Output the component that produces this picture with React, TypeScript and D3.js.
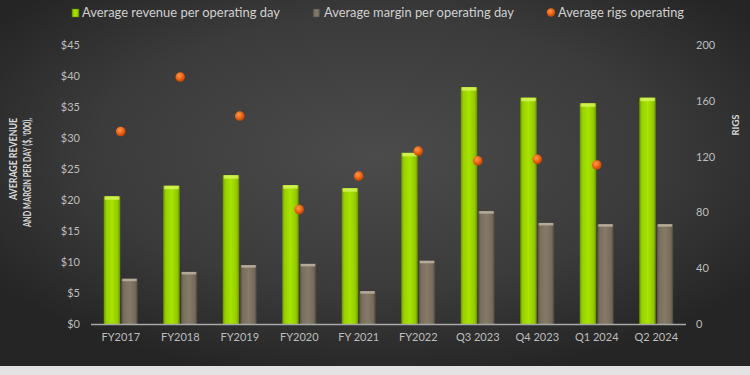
import React from "react";
import * as d3 from "d3";

const categories = ["FY2017", "FY2018", "FY2019", "FY2020", "FY 2021", "FY2022", "Q3 2023", "Q4 2023", "Q1 2024", "Q2 2024"];
const revenue = [20.6, 22.3, 24.0, 22.4, 21.9, 27.6, 38.2, 36.5, 35.6, 36.5];
const margin = [7.3, 8.4, 9.5, 9.7, 5.3, 10.2, 18.2, 16.3, 16.1, 16.1];
const rigs: (number | null)[] = [138, 177, 149, 82, 106, 124, 117, 118, 114, null];
const leftTicks = [0, 5, 10, 15, 20, 25, 30, 35, 40, 45];
const rightTicks = [0, 40, 80, 120, 160, 200];
const legendLabels = ["Average revenue per operating day", "Average margin per operating day", "Average rigs operating"];

const W = 750;
const H = 375;
const plot = { left: 91, right: 686, top: 45, bottom: 324 };
const FONT = "Lato, 'Open Sans', sans-serif";

export default function App() {
  const x = d3.scaleBand<string>().domain(categories).range([plot.left, plot.right]).paddingInner(0).paddingOuter(0);
  const yL = d3.scaleLinear().domain([0, 45]).range([plot.bottom, plot.top]);
  const yR = d3.scaleLinear().domain([0, 200]).range([plot.bottom, plot.top]);
  const bw = 16.5;
  const gap = 0.5;

  return (
    <div style={{ position: "fixed", left: 0, top: 0, width: W, height: H }}>
      <svg width={W} height={H} style={{ display: "block" }} fontFamily={FONT}>
        <defs>
          <radialGradient id="bg" cx="0.5" cy="0.42" r="0.62">
            <stop offset="0" stopColor="#4b4b4b" />
            <stop offset="0.6" stopColor="#3b3b3b" />
            <stop offset="1" stopColor="#252525" />
          </radialGradient>
          <linearGradient id="gGreen" x1="0" x2="1" y1="0" y2="0">
            <stop offset="0" stopColor="#6a9400" />
            <stop offset="0.15" stopColor="#97cf00" />
            <stop offset="0.5" stopColor="#a8e400" />
            <stop offset="0.85" stopColor="#92c900" />
            <stop offset="1" stopColor="#658e00" />
          </linearGradient>
          <linearGradient id="gBrown" x1="0" x2="1" y1="0" y2="0">
            <stop offset="0" stopColor="#574e42" />
            <stop offset="0.15" stopColor="#7a6f5e" />
            <stop offset="0.5" stopColor="#857a68" />
            <stop offset="0.85" stopColor="#766b5a" />
            <stop offset="1" stopColor="#4c443a" />
          </linearGradient>
          <radialGradient id="gDot" cx="0.4" cy="0.35" r="0.65">
            <stop offset="0" stopColor="#ff9a4a" />
            <stop offset="0.5" stopColor="#f06a1a" />
            <stop offset="1" stopColor="#c04300" />
          </radialGradient>
        </defs>
        <rect x={0} y={0} width={W} height={H} fill="#e3e3e3" />
        <rect x={0} y={0} width={W} height={366} fill="url(#bg)" />

        {/* Legend */}
        <rect x={72} y={9} width={7} height={8} fill="url(#gGreen)" stroke="#5a7a00" strokeWidth={0.5} />
        <text x={82} y={17} fontSize={13} fill="#d0d0d0" textLength={198} lengthAdjust="spacingAndGlyphs">{legendLabels[0]}</text>
        <rect x={313} y={9} width={7} height={8} fill="url(#gBrown)" stroke="#444" strokeWidth={0.5} />
        <text x={324} y={17} fontSize={13} fill="#d0d0d0" textLength={190} lengthAdjust="spacingAndGlyphs">{legendLabels[1]}</text>
        <circle cx={551} cy={12.5} r={4.2} fill="url(#gDot)" />
        <text x={558} y={17} fontSize={13} fill="#d0d0d0" textLength={126} lengthAdjust="spacingAndGlyphs">{legendLabels[2]}</text>

        {/* Left ticks */}
        {leftTicks.map((t) => (
          <text key={"l" + t} x={80} y={yL(t) + 4} fontSize={11} fill="#bdbdbd" textAnchor="end">{"$" + t}</text>
        ))}
        {/* Right ticks */}
        {rightTicks.map((t) => (
          <text key={"r" + t} x={696} y={yR(t) + 4} fontSize={11} fill="#bdbdbd" textAnchor="start">{t}</text>
        ))}

        {/* Axis titles */}
        <text transform="translate(17,118) rotate(-90)" fontSize={11} fontWeight="bold" fill="#d8d8d8" textAnchor="end" textLength={82} lengthAdjust="spacingAndGlyphs">AVERAGE REVENUE</text>
        <text transform="translate(30.5,118) rotate(-90)" fontSize={11} fontWeight="bold" fill="#d8d8d8" textAnchor="end" textLength={109} lengthAdjust="spacingAndGlyphs">AND MARGIN PER DAY ($, '000),</text>
        <text transform="translate(739,125) rotate(-90)" fontSize={9.5} fontWeight="bold" fill="#d8d8d8" textAnchor="middle">RIGS</text>

        {/* Bars */}
        {categories.map((c, i) => {
          const cx = (x(c) as number) + x.bandwidth() / 2;
          const gx = cx - gap - bw;
          const mx = cx + gap;
          const gy = yL(revenue[i]);
          const my = yL(margin[i]);
          return (
            <g key={c}>
              <rect x={gx} y={gy} width={bw} height={plot.bottom - gy} fill="url(#gGreen)" />
              <rect x={gx + 1} y={gy} width={bw - 2} height={3.5} fill="#d6f55a" opacity={0.85} />
              <rect x={mx} y={my} width={bw} height={plot.bottom - my} fill="url(#gBrown)" />
              <rect x={mx + 1} y={my} width={bw - 2} height={2.5} fill="#b9b0a0" opacity={0.9} />
            </g>
          );
        })}

        {/* Axis line */}
        <line x1={plot.left} x2={plot.right} y1={plot.bottom + 0.5} y2={plot.bottom + 0.5} stroke="#a8a8a8" strokeWidth={1.5} />

        {/* Category labels */}
        {categories.map((c) => (
          <text key={"c" + c} x={(x(c) as number) + x.bandwidth() / 2} y={341} fontSize={11} fill="#bdbdbd" textAnchor="middle">{c}</text>
        ))}

        {/* Rig dots */}
        {categories.map((c, i) =>
          rigs[i] == null ? null : (
            <circle key={"d" + c} cx={(x(c) as number) + x.bandwidth() / 2} cy={yR(rigs[i] as number)} r={4.8} fill="url(#gDot)" />
          )
        )}
      </svg>
    </div>
  );
}
